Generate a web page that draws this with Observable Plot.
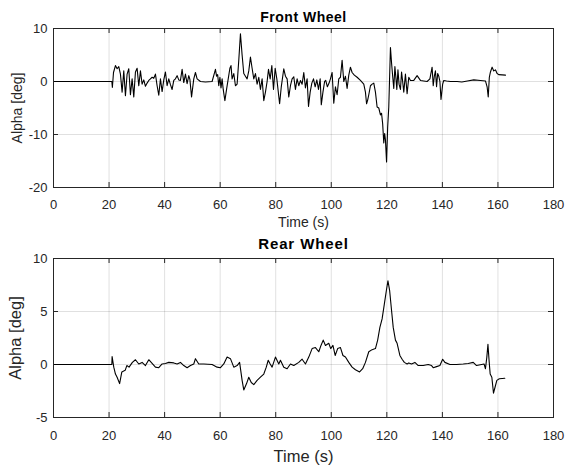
<!DOCTYPE html>
<html><head><meta charset="utf-8">
<script src="https://cdn.jsdelivr.net/npm/d3@7"></script>
<script src="https://cdn.jsdelivr.net/npm/@observablehq/plot@0.6"></script>
<style>body{margin:0;background:#fff;} svg{display:block;}</style>
</head><body><div id="chart"></div>
<script>
const xTicks = [0, 20, 40, 60, 80, 100, 120, 140, 160, 180];
const frontYTicks = [-20, -10, 0, 10];
const rearYTicks = [-5, 0, 5, 10];

const frontTime = [0, 21.0, 21.2, 21.6, 22.3, 22.9, 23.5, 24.1, 24.7, 25.3, 25.9, 26.5, 27.1, 27.7, 28.3, 28.9, 29.5, 30.1, 30.7, 31.3, 31.9, 32.5, 33.1, 33.7, 34.3, 34.9, 35.5, 36.1, 36.7, 37.3, 37.9, 38.5, 39.1, 39.7, 40.3, 40.9, 41.5, 42.1, 42.7, 43.3, 43.9, 44.5, 45.1, 45.7, 46.3, 46.9, 47.5, 48.1, 48.7, 49.1, 49.7, 50.5, 51.1, 51.7, 52.9, 54.7, 57.1, 58.3, 58.7, 59.1, 59.5, 59.9, 60.3, 60.7, 61.1, 61.7, 62.3, 62.9, 63.5, 63.9, 64.3, 64.9, 65.5, 66.1, 66.7, 67.3, 67.9, 68.5, 69.1, 69.7, 70.3, 70.9, 71.5, 72.1, 72.7, 73.3, 73.9, 74.5, 75.1, 75.7, 76.3, 76.9, 77.4, 78.0, 78.6, 79.2, 79.8, 80.4, 81.4, 82.0, 82.9, 83.5, 84.1, 84.7, 85.3, 85.9, 86.5, 87.1, 87.7, 88.3, 88.9, 89.5, 90.1, 90.7, 91.3, 91.8, 92.4, 93.0, 93.6, 94.2, 94.8, 95.4, 96.0, 96.4, 97.0, 97.6, 98.0, 98.6, 99.2, 99.7, 100.3, 100.9, 101.5, 102.1, 102.7, 103.3, 103.9, 104.5, 105.1, 105.7, 106.3, 106.9, 107.5, 108.3, 109.3, 110.5, 111.7, 112.3, 112.7, 113.1, 113.5, 114.1, 114.7, 115.3, 115.9, 116.5, 117.1, 117.7, 118.1, 118.5, 118.9, 119.2, 119.5, 119.9, 120.3, 120.7, 121.3, 121.7, 122.1, 122.5, 122.9, 123.3, 123.6, 124.0, 124.4, 124.9, 125.3, 125.7, 126.1, 126.7, 127.3, 127.9, 128.5, 129.7, 130.9, 132.1, 134.5, 135.5, 136.3, 136.7, 137.1, 137.5, 137.9, 138.3, 138.7, 139.1, 139.5, 140.1, 140.5, 141.5, 142.9, 145.3, 147.0, 149.0, 151.3, 153.7, 155.5, 156.1, 156.5, 156.9, 157.3, 157.9, 158.5, 159.1, 159.7, 160.3, 162.7];
const frontAlpha = [0, 0, -1.1, 1.7, 3.0, 2.4, 2.8, 1.4, -2.0, 2.0, -2.7, 1.4, 2.4, -2.5, 0.5, -2.9, 1.8, 2.5, -0.8, 2.0, -0.5, 0.3, -0.9, -0.3, 0.2, 0.5, 0.8, 0.6, 1.4, -0.8, -2.6, 0.5, -1.9, 0.3, 1.8, -0.8, 0.5, -0.6, -1.5, 0.2, 0.5, 1.1, 0.3, 0.2, 2.3, -0.2, 1.4, -0.4, 1.1, 0.4, -2.9, 0.5, 1.7, 0.5, 0.0, -0.1, 0.0, 2.3, 1.0, 1.3, -0.8, 0.8, -1.2, 0.5, -1.5, -3.6, -1.5, 0.5, 2.5, 3.0, 0.5, 1.5, -0.8, -0.5, 4.0, 9.0, 5.0, 1.5, 1.0, 0.5, 2.0, 4.6, 2.5, 0.5, 1.5, -0.5, 0.8, -1.5, 0.5, -3.6, -2.0, 0.0, 2.3, 0.5, 3.0, -1.5, 2.5, 0.5, -4.2, -1.0, 2.4, 1.0, 0.5, -2.9, -0.8, 0.5, 0.9, -1.5, 0.5, -0.8, 0.2, -0.5, 1.7, -1.2, 0.5, -4.7, -2.0, -0.3, 0.5, -1.0, 0.3, -1.5, 0.5, -4.4, -2.0, 0.0, 0.2, -1.0, -0.3, 0.5, 1.7, -4.1, -1.0, -2.5, 0.5, 0.8, 4.0, 0.0, 1.0, -1.3, 1.2, 2.7, 1.7, 1.2, 0.8, 0.2, -0.5, -2.0, -4.2, -3.5, -2.5, -0.8, -0.5, -0.3, -2.0, -4.8, -5.0, -6.3, -6.0, -8.0, -11.6, -9.8, -11.0, -15.2, -8.6, -4.8, 6.4, 3.5, 1.0, -1.3, 2.8, 0.5, -1.5, 2.2, -0.5, -1.5, 1.8, 0.0, -2.0, 1.4, -2.3, 0.8, 0.2, 0.2, 1.1, 0.2, 0.0, 0.5, 2.7, -0.8, 1.0, 2.0, -1.0, 1.5, 1.0, 0.0, -3.4, -0.5, 0.2, 0.1, 0.0, 0.0, -0.1, 0.1, 0.3, 0.2, 0.1, -1.0, -2.9, 0.8, 1.8, 2.7, 2.0, 2.2, 1.5, 1.3, 1.2];

const rearTime = [0, 21.0, 21.1, 21.7, 22.3, 22.9, 23.8, 24.6, 25.8, 26.4, 27.2, 28.4, 29.5, 30.7, 31.9, 33.1, 34.3, 35.5, 36.7, 37.9, 39.1, 40.3, 41.5, 43.3, 44.5, 45.7, 46.9, 48.1, 49.3, 50.5, 51.1, 52.3, 54.1, 57.1, 58.9, 60.1, 61.3, 62.5, 63.7, 64.9, 66.1, 67.0, 67.9, 68.5, 69.5, 70.3, 71.2, 72.1, 73.3, 74.5, 75.7, 76.6, 77.3, 78.0, 78.7, 79.9, 81.1, 81.7, 82.9, 84.1, 85.3, 86.5, 88.3, 89.5, 90.7, 91.9, 93.1, 94.3, 95.5, 96.3, 97.1, 97.9, 99.1, 99.8, 100.6, 101.4, 102.3, 103.3, 104.2, 105.1, 106.3, 107.5, 108.7, 110.2, 111.3, 112.3, 113.5, 114.7, 115.9, 116.7, 117.5, 118.3, 119.1, 119.9, 120.4, 121.0, 121.7, 122.3, 123.1, 123.7, 124.7, 125.5, 126.3, 127.3, 127.9, 128.9, 130.1, 131.3, 133.1, 134.9, 136.1, 136.7, 137.9, 139.1, 140.1, 140.9, 142.7, 145.1, 147.5, 149.3, 151.1, 152.3, 154.1, 155.0, 155.5, 156.0, 156.4, 156.8, 157.2, 157.8, 158.4, 159.0, 159.6, 160.5, 162.5];
const rearAlpha = [0, 0, 0.75, -0.25, -0.9, -1.2, -1.8, -0.7, -0.55, -0.1, -0.25, 0.2, 0.45, 0.05, 0.2, -0.1, 0.45, 0.1, -0.25, -0.3, 0.05, 0.1, 0.2, 0.15, 0.05, 0.2, -0.1, -0.3, -0.1, 0.05, 0.55, 0.05, 0.05, 0.0, -0.25, -0.3, 0.05, 0.7, 0.55, -0.25, -0.1, 0.2, -1.5, -2.4, -1.8, -1.2, -1.7, -1.9, -1.5, -1.2, -0.9, -0.25, 0.4, 0.05, -0.25, 0.7, 0.05, 0.4, -0.25, -0.4, 0.05, -0.1, 0.2, 0.5, 0.05, 0.7, 1.5, 1.6, 1.2, 1.8, 2.3, 1.8, 2.0, 1.5, 1.8, 0.85, 1.5, 1.6, 0.85, 0.7, 0.2, -0.25, -0.5, -0.7, -0.4, 0.2, 1.2, 1.4, 1.5, 2.3, 3.5, 4.3, 5.7, 7.1, 7.9, 7.0, 5.1, 3.5, 2.3, 2.0, 0.85, 0.5, 0.2, 0.05, 0.15, 0.05, 0.2, -0.1, -0.1, 0.0, -0.1, -0.3, -0.2, -0.1, 0.5, 0.2, 0.0, 0.0, 0.05, 0.1, 0.2, -0.1, 0.0, 0.05, -0.4, 0.7, 1.9, 0.4, -0.9, -1.2, -2.7, -2.1, -1.5, -1.35, -1.3];

const ink = "#262626";
const font = "'Liberation Sans', Arial, Helvetica, sans-serif";

function panel(o) {
  const W = 566, ml = 53, mr = 13;
  const ph = o.height - o.mt - o.mb, pw = W - ml - mr;
  const data = o.time.map((t, i) => ({t, a: o.alpha[i]}));
  const fmt = d => String(d);
  const svg = Plot.plot({
    width: W, height: o.height,
    marginLeft: ml, marginRight: mr, marginTop: o.mt, marginBottom: o.mb,
    style: {fontFamily: font, fontSize: "13px", color: ink, background: "#fff", overflow: "visible"},
    x: {domain: [0, 180]},
    y: {domain: o.yDomain},
    marks: [
      Plot.gridX(xTicks, {stroke: "#000", strokeOpacity: 0.12}),
      Plot.gridY(o.yTicks, {stroke: "#000", strokeOpacity: 0.12}),
      Plot.axisX(xTicks, {tickSize: 0, tickPadding: o.tickPadX, label: null, tickFormat: fmt}),
      Plot.axisY(o.yTicks, {tickSize: 0, tickPadding: 6, label: null, tickFormat: fmt}),
      Plot.tickX(xTicks, {x: d => d, insetTop: ph - 5, stroke: ink}),
      Plot.tickX(xTicks, {x: d => d, insetBottom: ph - 5, stroke: ink}),
      Plot.tickY(o.yTicks, {y: d => d, insetRight: pw - 5, stroke: ink}),
      Plot.tickY(o.yTicks, {y: d => d, insetLeft: pw - 5, stroke: ink}),
      Plot.line(data, {x: "t", y: "a", stroke: "#000", strokeWidth: 1.1}),
      Plot.frame({stroke: ink}),
      Plot.text([o.title], {frameAnchor: "top", lineAnchor: "middle", textAnchor: "middle", dy: o.titleDy, text: d => d, fontWeight: "bold", fontSize: o.titleSize, fill: "#000"}),
      Plot.text(["Time (s)"], {frameAnchor: "bottom", lineAnchor: "middle", textAnchor: "middle", dy: o.xLabelDy, text: d => d, fontSize: o.labelSize, fill: ink}),
      Plot.text(["Alpha [deg]"], {frameAnchor: "left", lineAnchor: "middle", textAnchor: "middle", dx: o.yLabelDx, rotate: -90, text: d => d, fontSize: o.labelSize, fill: ink})
    ]
  });
  d3.select(svg).selectAll("text").filter(function() { return this.textContent === o.title; })
    .style("letter-spacing", o.titleSpacing + "px");
  return svg;
}

const root = document.getElementById("chart");
root.appendChild(panel({
  title: "Front Wheel", time: frontTime, alpha: frontAlpha,
  yDomain: [-20, 10], yTicks: frontYTicks,
  height: 229, mt: 28, mb: 42, tickPadX: 12,
  titleSize: 14, titleSpacing: 0.5, titleDy: -10.8,
  labelSize: 14, xLabelDy: 35.5, yLabelDx: -36
}));
root.appendChild(panel({
  title: "Rear Wheel", time: rearTime, alpha: rearAlpha,
  yDomain: [-5, 10], yTicks: rearYTicks,
  height: 240, mt: 29, mb: 52, tickPadX: 13,
  titleSize: 15, titleSpacing: 0.9, titleDy: -14.8,
  labelSize: 16.5, xLabelDy: 39.7, yLabelDx: -38
}));
</script>
</body></html>
